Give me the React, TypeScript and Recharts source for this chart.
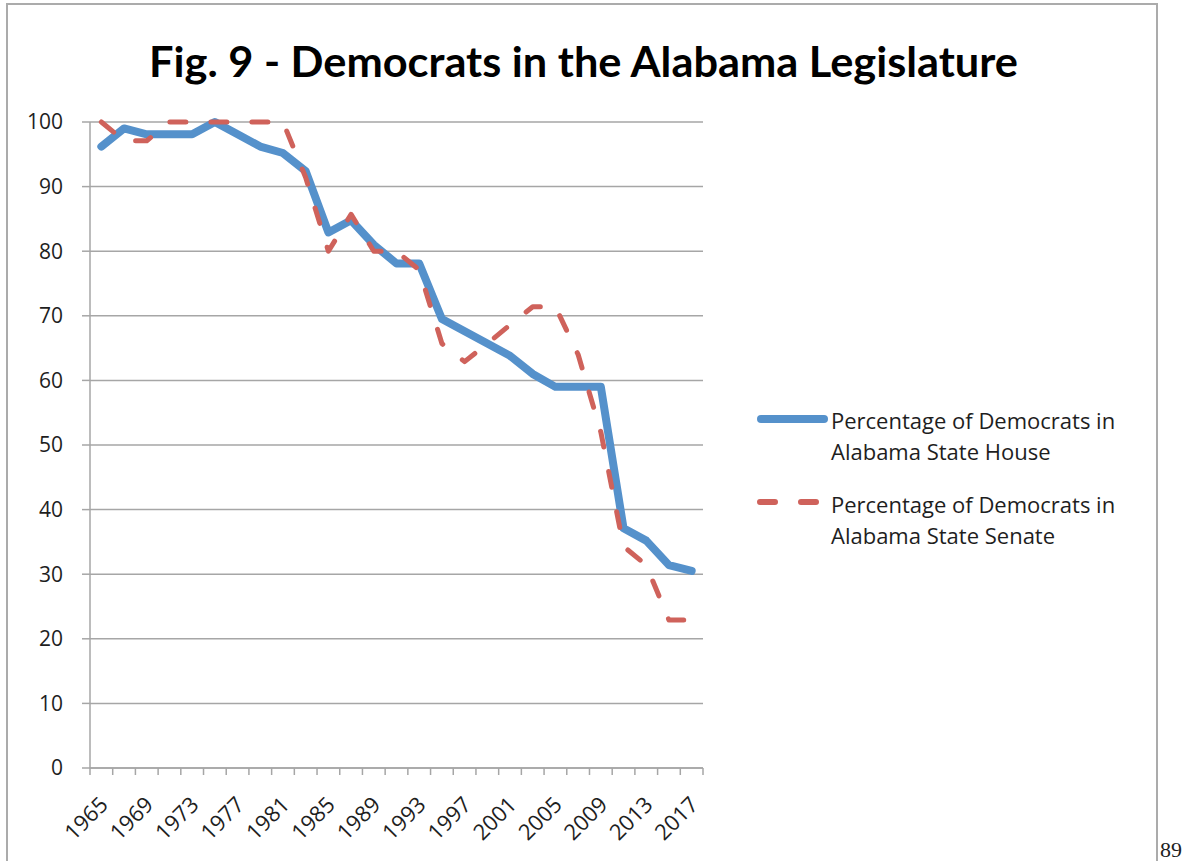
import { LineChart, Line, XAxis, YAxis, CartesianGrid } from "recharts";

// two-year steps, 1965 through 2017
const years = [
  1965, 1967, 1969, 1971, 1973, 1975, 1977, 1979, 1981, 1983, 1985, 1987, 1989, 1991,
  1993, 1995, 1997, 1999, 2001, 2003, 2005, 2007, 2009, 2011, 2013, 2015, 2017,
];

// % of seats held by Democrats
const houseShare = [
  96.2, 99.0, 98.1, 98.1, 98.1, 100, 98.1, 96.2, 95.2, 92.4, 82.9, 84.8, 81.0, 78.1,
  78.1, 69.5, 67.6, 65.7, 63.8, 61.0, 59.0, 59.0, 59.0, 37.1, 35.2, 31.4, 30.5,
];
const senateShare = [
  100, 97.1, 97.1, 100, 100, 100, 100, 100, 100, 91.4, 80.0, 85.7, 80.0, 80.0,
  77.1, 65.7, 62.9, 65.7, 68.6, 71.4, 71.4, 64.0, 52.0, 34.3, 31.4, 22.9, 22.9,
];

const xLabelYears = [1965, 1969, 1973, 1977, 1981, 1985, 1989, 1993, 1997, 2001, 2005, 2009, 2013, 2017];
const yTicks = [0, 10, 20, 30, 40, 50, 60, 70, 80, 90, 100];

const data = years.map((year, i) => ({ year, house: houseShare[i], senate: senateShare[i] }));

const W = 1182;
const H = 861;
const PLOT_LEFT = 90;
const PLOT_RIGHT = 703;
const PLOT_TOP = 122;
const PLOT_BOTTOM = 768;
const X_AXIS_H = 60;
const BAND = (PLOT_RIGHT - PLOT_LEFT) / years.length;

const AXIS_GREY = "#a6a6a6";
const HOUSE_BLUE = "#5591cb";
const SENATE_RED = "#cf625b";
const TEXT = "#1e1e1e";
const FONT = "'Open Sans', sans-serif";

// tick marks sit between categories, labels on every other year
function YearTick({ x, y, index, payload }: any) {
  const half = BAND / 2;
  const last = index === years.length - 1;
  return (
    <g>
      <line x1={x - half} x2={x - half} y1={y} y2={y + 7} stroke={AXIS_GREY} strokeWidth={1.5} />
      {last && <line x1={x + half} x2={x + half} y1={y} y2={y + 7} stroke={AXIS_GREY} strokeWidth={1.5} />}
      {xLabelYears.includes(payload.value) && (
        <text
          transform={`translate(${x + 8},${y + 38}) rotate(-45)`}
          textAnchor="end"
          fontSize={22}
          fontFamily={FONT}
          fill={TEXT}
        >
          {payload.value}
        </text>
      )}
    </g>
  );
}

export default function App() {
  return (
    <div style={{ position: "absolute", left: 0, top: 0, width: W, height: H, background: "#fff" }}>
      <div style={{ position: "absolute", left: 0, top: 0 }}>
        <LineChart
          width={W}
          height={H}
          data={data}
          margin={{ top: PLOT_TOP, right: W - PLOT_RIGHT, bottom: H - PLOT_BOTTOM - X_AXIS_H, left: 0 }}
        >
          <CartesianGrid vertical={false} stroke={AXIS_GREY} strokeWidth={1.5} />
          <XAxis
            dataKey="year"
            height={X_AXIS_H}
            interval={0}
            tickLine={false}
            tickSize={0}
            tickMargin={0}
            padding={{ left: BAND / 2, right: BAND / 2 }}
            axisLine={{ stroke: AXIS_GREY, strokeWidth: 1.5 }}
            tick={<YearTick />}
          />
          <YAxis
            width={PLOT_LEFT}
            domain={[0, 100]}
            ticks={yTicks}
            interval={0}
            tickSize={8}
            tickMargin={19}
            axisLine={{ stroke: AXIS_GREY, strokeWidth: 1.5 }}
            tickLine={{ stroke: AXIS_GREY, strokeWidth: 1.5 }}
            tick={{ fill: TEXT, fontSize: 21, fontFamily: FONT }}
          />
          <Line
            dataKey="house"
            type="linear"
            stroke={HOUSE_BLUE}
            strokeWidth={8}
            strokeLinecap="round"
            strokeLinejoin="round"
            dot={false}
            isAnimationActive={false}
          />
          <Line
            dataKey="senate"
            type="linear"
            stroke={SENATE_RED}
            strokeWidth={5}
            strokeDasharray="16 25"
            strokeLinecap="round"
            strokeLinejoin="round"
            dot={false}
            isAnimationActive={false}
          />
        </LineChart>
      </div>

      <svg width={W} height={H} style={{ position: "absolute", left: 0, top: 0, pointerEvents: "none" }}>
        <path d="M7 880 V4 H1157 V880" stroke="#ababab" strokeWidth={2} fill="none" />
        <text
          x={149}
          y={77}
          fontFamily="Lato, sans-serif"
          fontWeight={700}
          fontSize={42}
          textLength={869}
          lengthAdjust="spacingAndGlyphs"
          fill="#000"
        >
          Fig. 9 - Democrats in the Alabama Legislature
        </text>

        <line x1={761} x2={824} y1={419} y2={419} stroke={HOUSE_BLUE} strokeWidth={8} strokeLinecap="round" />
        <text x={831} y={429} fontSize={22} fontFamily={FONT} fill={TEXT}>Percentage of Democrats in</text>
        <text x={831} y={460} fontSize={22} fontFamily={FONT} fill={TEXT}>Alabama State House</text>

        <line
          x1={760}
          x2={817}
          y1={502}
          y2={502}
          stroke={SENATE_RED}
          strokeWidth={6}
          strokeDasharray="15 26"
          strokeLinecap="round"
        />
        <text x={831} y={513} fontSize={22} fontFamily={FONT} fill={TEXT}>Percentage of Democrats in</text>
        <text x={831} y={544} fontSize={22} fontFamily={FONT} fill={TEXT}>Alabama State Senate</text>

        <text x={1160} y={857} fontSize={22} fontFamily="'Liberation Serif', serif" fill={TEXT}>89</text>
      </svg>
    </div>
  );
}
